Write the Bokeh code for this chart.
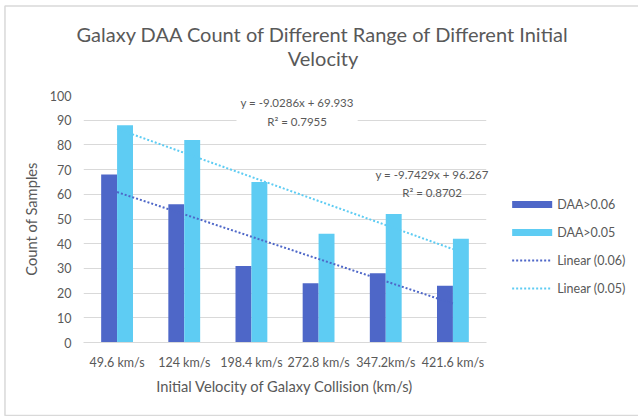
import numpy as np
from bokeh.plotting import figure
from bokeh.models import Label, FixedTicker, Range1d, ColumnDataSource
from bokeh.embed import file_html
from bokeh.resources import INLINE

# ---- data ----
categories = ["49.6 km/s", "124 km/s", "198.4 km/s", "272.8 km/s", "347.2km/s", "421.6 km/s"]
daa_006 = [68, 56, 31, 24, 28, 23]
daa_005 = [88, 82, 65, 44, 52, 42]
y_ticks = [0, 10, 20, 30, 40, 50, 60, 70, 80, 90, 100]
eq_006 = "y = -9.0286x + 69.933"
r2_006 = "R² = 0.7955"
eq_005 = "y = -9.7429x + 96.267"
r2_005 = "R² = 0.8702"
legend_labels = ["DAA>0.06", "DAA>0.05", "Linear (0.06)", "Linear (0.05)"]
title_lines = ["Galaxy DAA Count of Different Range of Different Initial", "Velocity"]

# ---- styles ----
C1 = "#4E67C8"
C2 = "#5ECCF3"
TXT = "#595959"
GRID = "#D9D9D9"
FONT = "Lato"
BW = 0.237

xs = np.arange(1, len(categories) + 1)
m1, b1 = np.polyfit(xs, daa_006, 1)
m2, b2 = np.polyfit(xs, daa_005, 1)

p = figure(width=638, height=416, output_backend="svg", toolbar_location=None,
           x_range=Range1d(0.5, 6.5), y_range=Range1d(0, 100),
           min_border_left=83, min_border_right=152, min_border_top=95, min_border_bottom=74)
p.outline_line_color = None
p.background_fill_color = "white"
p.border_fill_color = "white"
p.xgrid.grid_line_color = None
p.ygrid.grid_line_color = GRID
p.ygrid.grid_line_width = 1

p.yaxis.ticker = FixedTicker(ticks=y_ticks)
p.xaxis.ticker = FixedTicker(ticks=[int(v) for v in xs])
p.xaxis.major_label_overrides = {int(v): c for v, c in zip(xs, categories)}

for ax in (p.xaxis[0], p.yaxis[0]):
    ax.major_tick_line_color = None
    ax.minor_tick_line_color = None
    ax.major_tick_out = 0
    ax.major_tick_in = 0
    ax.major_label_text_font = FONT
    ax.major_label_text_font_size = "12.5px"
    ax.major_label_text_color = TXT
    ax.axis_label_text_font = FONT
    ax.axis_label_text_font_size = "14.7px"
    ax.axis_label_text_color = TXT
    ax.axis_label_text_font_style = "normal"
p.yaxis.axis_line_color = None
p.xaxis.axis_line_color = GRID
p.yaxis.major_label_standoff = 12
p.xaxis.major_label_standoff = 12
p.yaxis.axis_label = "Count of Samples"
p.xaxis.axis_label = "Initial Velocity of Galaxy Collision (km/s)"
p.yaxis.axis_label_standoff = 7
p.xaxis.axis_label_standoff = 4

src = ColumnDataSource(dict(x1=xs - BW / 2, x2=xs + BW / 2, a=daa_006, b=daa_005))
r1 = p.vbar(x="x1", top="a", width=BW, source=src, fill_color=C1, line_color=None)
r2 = p.vbar(x="x2", top="b", width=BW, source=src, fill_color=C2, line_color=None)

xl = [float(xs[0]), float(xs[-1])]
l1 = p.line(xl, [m1 * v + b1 for v in xl], line_color=C1, line_width=2, line_dash="2 2")
l2 = p.line(xl, [m2 * v + b2 for v in xl], line_color=C2, line_width=2, line_dash="2 2")

# trendline equation labels
lab1 = Label(x=3.68, y=93.2, text=eq_006 + "\n" + r2_006, text_align="center", text_baseline="middle",
             text_font=FONT, text_font_size="11.5px", text_color=TXT, text_line_height=1.45,
             background_fill_color="white", padding=4)
p.add_layout(lab1)
p.text(x=[5.69, 5.69], y=[67.9, 60.8], text=[eq_005, r2_005], text_align="center",
       text_baseline="middle", text_font={"value": FONT}, text_font_size="11.5px",
       text_color=TXT, level="overlay")

# title (two centred lines)
p.text(x=[4.066, 4.066], y=[124.7, 115.0], text=title_lines, text_align="center",
       text_baseline="middle", text_font={"value": FONT}, text_font_size="20px",
       text_color=TXT, level="overlay")

# legend (drawn beside the plot area)
ly = [55.87, 44.53, 33.2, 21.86]
gx0, gx1 = 6.882, 7.478
p.rect(x=[(gx0 + gx1) / 2] * 2, y=ly[:2], width=gx1 - gx0, height=7, height_units="screen",
       fill_color=[C1, C2], line_color=None, level="overlay")
p.multi_line(xs=[[gx0, gx1], [gx0, gx1]], ys=[[ly[2], ly[2]], [ly[3], ly[3]]],
             line_color=[C1, C2], line_width=2, line_dash="2 2", level="overlay")
p.text(x=[7.552] * 4, y=ly, text=legend_labels, text_align="left", text_baseline="middle",
       text_font={"value": FONT}, text_font_size="12.5px", text_color=TXT, level="overlay")

# light chart-area border
p.line(x=[8.8, -0.669, -0.669, 8.8], y=[136.23, 136.23, -29.55, -29.55],
       line_color=GRID, line_width=1.5, level="overlay")

open("out.html", "w").write(file_html(p, INLINE))
